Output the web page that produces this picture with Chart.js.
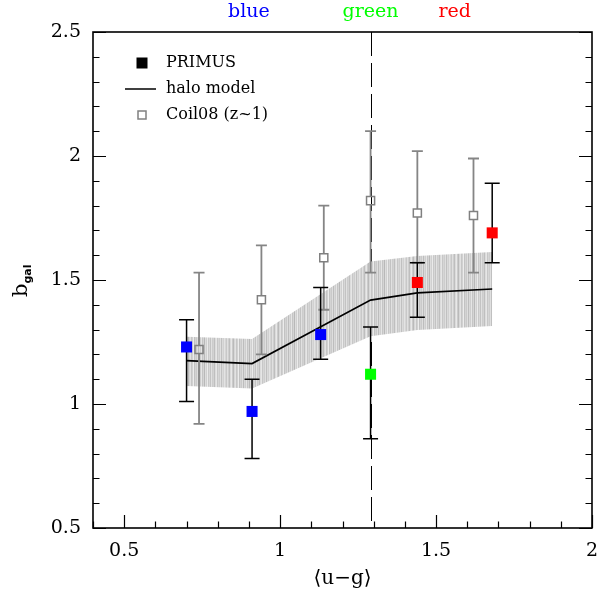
<!DOCTYPE html>
<html>
<head>
<meta charset="utf-8">
<script src="https://cdn.jsdelivr.net/npm/chart.js@4.4.1/dist/chart.umd.min.js"></script>
<style>
  html, body { margin: 0; padding: 0; background: #fff; }
</style>
</head>
<body>
<canvas id="bgal" width="612" height="592"></canvas>
<script>
// PRIMUS clustering bias per colour bin
var primusX  = [0.70, 0.91, 1.13, 1.29, 1.44, 1.68];
var primusY  = [1.23, 0.97, 1.28, 1.12, 1.49, 1.69];
var primusLo = [1.01, 0.78, 1.18, 0.86, 1.35, 1.57];
var primusHi = [1.34, 1.10, 1.47, 1.31, 1.57, 1.89];
var primusColors = ['#0000ff', '#0000ff', '#0000ff', '#00ff00', '#ff0000', '#ff0000'];

// Coil08 (z~1) comparison points
var coilX  = [0.74, 0.94, 1.14, 1.29, 1.44, 1.62];
var coilY  = [1.22, 1.42, 1.59, 1.82, 1.77, 1.76];
var coilLo = [0.92, 1.20, 1.38, 1.53, 1.57, 1.53];
var coilHi = [1.53, 1.64, 1.80, 2.10, 2.02, 1.99];

// halo model prediction and its spread
var modelX  = [0.70, 0.91, 1.29, 1.44, 1.68];
var modelY  = [1.175, 1.163, 1.419, 1.448, 1.464];
var bandLo  = [1.073, 1.063, 1.273, 1.298, 1.315];
var bandHi  = [1.271, 1.262, 1.575, 1.597, 1.613];

var greenValley = 1.29;
var colourNames = ['blue', 'green', 'red'];
var colourNameColors = ['#0000ff', '#00ff00', '#ff0000'];
var legendLabels = ['PRIMUS', 'halo model', 'Coil08 (z~1)'];

var SERIF = '"DejaVu Serif", serif';
Chart.defaults.font.family = SERIF;
Chart.defaults.color = '#000';

function pts(xs, ys) {
    return xs.map(function (x, i) { return {x: x, y: ys[i]}; });
}

// streaky grey fill for the model band
function bandPattern(ctx) {
    var greys = [213, 200, 224, 207, 190, 219, 232, 203, 186, 215, 226, 198, 209, 236, 194,
                 211, 202, 222, 189, 217, 206, 229, 197, 213, 184, 221, 208, 234, 200, 216,
                 195, 225, 204, 210, 191, 220, 230, 199, 214, 205, 223, 192, 218, 209, 227];
    var c = document.createElement('canvas');
    c.width = greys.length; c.height = 1;
    var g = c.getContext('2d');
    greys.forEach(function (v, i) {
        g.fillStyle = 'rgb(' + v + ',' + v + ',' + v + ')';
        g.fillRect(i, 0, 1, 1);
    });
    return ctx.createPattern(c, 'repeat');
}

function isHalf(v) { return Math.abs(v * 2 - Math.round(v * 2)) < 1e-6; }

function fmt(v) {
    var r = Math.round(v * 10) / 10;
    return String(r);
}

function errorBars(ctx, xs, ys, lo, hi, sx, sy, color, width, cap, gapPx) {
    ctx.save();
    ctx.strokeStyle = color;
    ctx.lineWidth = width;
    xs.forEach(function (xv, i) {
        var px = sx.getPixelForValue(xv);
        var py = sy.getPixelForValue(ys[i]);
        var pl = sy.getPixelForValue(lo[i]);
        var ph = sy.getPixelForValue(hi[i]);
        ctx.beginPath();
        ctx.moveTo(px, py - gapPx); ctx.lineTo(px, ph);
        ctx.moveTo(px, py + gapPx); ctx.lineTo(px, pl);
        ctx.moveTo(px - cap, ph); ctx.lineTo(px + cap, ph);
        ctx.moveTo(px - cap, pl); ctx.lineTo(px + cap, pl);
        ctx.stroke();
    });
    ctx.restore();
}

var decor = {
    id: 'decor',
    beforeDatasetsDraw: function (chart) {
        var ctx = chart.ctx, a = chart.chartArea;
        var px = Math.round(chart.scales.x.getPixelForValue(greenValley)) + 0.5;
        ctx.save();
        ctx.strokeStyle = '#000';
        ctx.lineWidth = 1;
        ctx.setLineDash([24, 7]);
        ctx.beginPath();
        ctx.moveTo(px, a.top);
        ctx.lineTo(px, a.bottom);
        ctx.stroke();
        ctx.restore();
    },
    afterDatasetDraw: function (chart, args) {
        if (args.index !== 2) return;
        var sx = chart.scales.x, sy = chart.scales.y, ctx = chart.ctx;
        errorBars(ctx, coilX, coilY, coilLo, coilHi, sx, sy, '#858585', 1.8, 5.5, 4);
        errorBars(ctx, primusX, primusY, primusLo, primusHi, sx, sy, '#000', 1.5, 7.5, 0);
    },
    afterDraw: function (chart) {
        var ctx = chart.ctx, a = chart.chartArea;
        var sx = chart.scales.x, sy = chart.scales.y;
        ctx.save();

        // inward ticks: bottom, left, right
        ctx.strokeStyle = '#000';
        ctx.lineWidth = 1.2;
        ctx.beginPath();
        sx.ticks.forEach(function (t) {
            var p = Math.round(sx.getPixelForValue(t.value)) + 0.5;
            var len = isHalf(t.value) ? 13 : 6.5;
            ctx.moveTo(p, a.bottom); ctx.lineTo(p, a.bottom - len);
        });
        sy.ticks.forEach(function (t) {
            var p = Math.round(sy.getPixelForValue(t.value)) + 0.5;
            var len = isHalf(t.value) ? 13 : 6.5;
            ctx.moveTo(a.left, p); ctx.lineTo(a.left + len, p);
            ctx.moveTo(a.right, p); ctx.lineTo(a.right - len, p);
        });
        ctx.stroke();

        // frame
        ctx.lineWidth = 1.6;
        ctx.strokeRect(a.left, a.top, a.right - a.left, a.bottom - a.top);

        // colour class names along the top
        var namePos = [0.90, 1.29, 1.56];
        ctx.font = '19px ' + SERIF;
        ctx.textAlign = 'center';
        ctx.textBaseline = 'middle';
        colourNames.forEach(function (n, i) {
            ctx.fillStyle = colourNameColors[i];
            ctx.fillText(n, sx.getPixelForValue(namePos[i]), 12);
        });

        // legend
        var lx = a.left + 49, tx = a.left + 73;
        var rows = [a.top + 31, a.top + 57, a.top + 83];
        ctx.fillStyle = '#000';
        ctx.fillRect(lx - 5.5, rows[0] - 5.5, 11, 11);
        ctx.lineWidth = 1.5;
        ctx.beginPath();
        ctx.moveTo(lx - 17, rows[1]); ctx.lineTo(lx + 14, rows[1]);
        ctx.stroke();
        ctx.strokeStyle = '#808080';
        ctx.strokeRect(lx - 4, rows[2] - 4, 8, 8);
        ctx.font = '16px ' + SERIF;
        ctx.textAlign = 'left';
        ctx.fillStyle = '#000';
        legendLabels.forEach(function (l, i) { ctx.fillText(l, tx, rows[i]); });

        // y-axis title with subscript
        ctx.translate(27, (a.top + a.bottom) / 2);
        ctx.rotate(-Math.PI / 2);
        ctx.textBaseline = 'alphabetic';
        ctx.font = '21px ' + SERIF;
        var bw = ctx.measureText('b').width;
        ctx.fillText('b', -17, 0);
        ctx.font = 'bold 11px "DejaVu Sans", sans-serif';
        ctx.fillText('gal', -17 + bw, 4);
        ctx.restore();
    }
};

var ctx = document.getElementById('bgal').getContext('2d');

new Chart(ctx, {
    type: 'scatter',
    data: {
        datasets: [
            {
                label: legendLabels[0],
                data: pts(primusX, primusY),
                pointStyle: 'rect',
                pointRadius: 7.8,
                pointBackgroundColor: primusColors,
                pointBorderWidth: 0,
                order: 0
            },
            {
                label: legendLabels[2],
                data: pts(coilX, coilY),
                pointStyle: 'rect',
                pointRadius: 5.7,
                pointBackgroundColor: 'rgba(0,0,0,0)',
                pointBorderColor: '#808080',
                pointBorderWidth: 1.5,
                order: 1
            },
            {
                label: legendLabels[1],
                data: pts(modelX, modelY),
                showLine: true,
                borderColor: '#000',
                borderWidth: 1.6,
                pointRadius: 0,
                order: 2
            },
            {
                label: 'band upper',
                data: pts(modelX, bandHi),
                showLine: true,
                borderWidth: 0,
                borderColor: 'rgba(0,0,0,0)',
                pointRadius: 0,
                fill: '+1',
                backgroundColor: bandPattern(ctx),
                order: 3
            },
            {
                label: 'band lower',
                data: pts(modelX, bandLo),
                showLine: true,
                borderWidth: 0,
                borderColor: 'rgba(0,0,0,0)',
                pointRadius: 0,
                order: 4
            }
        ]
    },
    options: {
        responsive: false,
        animation: false,
        layout: { padding: { top: 32, right: 20, left: 0, bottom: 0 } },
        plugins: {
            legend: { display: false },
            tooltip: { enabled: false }
        },
        scales: {
            x: {
                type: 'linear',
                min: 0.4, max: 2.0,
                grid: { display: false, drawTicks: false },
                border: { display: false },
                ticks: {
                    stepSize: 0.1,
                    autoSkip: false,
                    maxRotation: 0,
                    padding: 12,
                    font: { size: 19 },
                    callback: function (v) { return isHalf(v) ? fmt(v) : ''; }
                },
                title: {
                    display: true,
                    text: '\u27e8u\u2212g\u27e9',
                    font: { size: 20 },
                    padding: { top: 0, bottom: 1 }
                },
                afterFit: function (s) { s.height = 64; }
            },
            y: {
                type: 'linear',
                min: 0.5, max: 2.5,
                grid: { display: false, drawTicks: false },
                border: { display: false },
                ticks: {
                    stepSize: 0.1,
                    autoSkip: false,
                    padding: 12,
                    font: { size: 19 },
                    callback: function (v) { return isHalf(v) ? fmt(v) : ''; }
                },
                afterFit: function (s) { s.width = 93; }
            }
        }
    },
    plugins: [decor]
});
</script>
</body>
</html>
